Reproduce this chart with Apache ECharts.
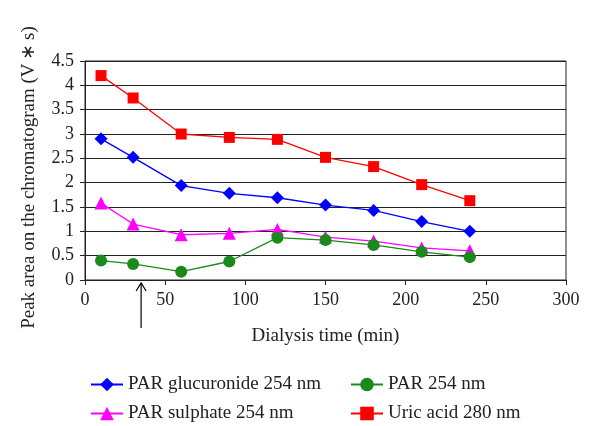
<!DOCTYPE html>
<html><head><meta charset="utf-8">
<script src="https://cdn.jsdelivr.net/npm/echarts@6/dist/echarts.min.js"></script>
<style>html,body{margin:0;padding:0;background:#fff}#c{width:600px;height:426px}</style>
</head><body><div id="c"></div>
<script>
const times = [10, 30, 60, 90, 120, 150, 180, 210, 240];
const glucuronide = [2.9, 2.52, 1.94, 1.78, 1.69, 1.54, 1.43, 1.2, 1.0];
const sulphate = [1.58, 1.15, 0.93, 0.96, 1.04, 0.88, 0.8, 0.66, 0.6];
const par = [0.4, 0.33, 0.17, 0.38, 0.87, 0.82, 0.72, 0.58, 0.47];
const uric = [4.2, 3.74, 3.0, 2.93, 2.89, 2.52, 2.33, 1.96, 1.63];
const arrowX = 35;
const names = ['PAR glucuronide 254 nm', 'PAR sulphate 254 nm', 'PAR 254 nm', 'Uric acid 280 nm'];
const font = 'Liberation Serif';
const pair = (ys) => times.map((t, i) => [t, ys[i]]);
const mk = (name, data, color, symbol, size) => ({
  name, type: 'line', data: pair(data), symbol, symbolSize: size,
  lineStyle: {color, width: 1.3}, itemStyle: {color}, color
});
const legendPos = [[85, 370], [85, 399], [345, 370], [345, 399]];
const chart = echarts.init(document.getElementById('c'));
chart.setOption({
  animation: false,
  textStyle: {fontFamily: font},
  grid: {left: 85, top: 61, width: 481, height: 219, show: true, borderColor: '#222', borderWidth: 1},
  xAxis: {
    type: 'value', min: 0, max: 300, interval: 50,
    name: 'Dialysis time (min)', nameLocation: 'middle', nameGap: 47,
    nameTextStyle: {fontFamily: font, fontSize: 19, color: '#222'},
    axisLine: {show: true, lineStyle: {color: '#222'}},
    axisTick: {show: true, length: 5, lineStyle: {color: '#222'}},
    axisLabel: {fontFamily: font, fontSize: 18, color: '#222', margin: 11},
    splitLine: {show: false}
  },
  yAxis: {
    type: 'value', min: 0, max: 4.5, interval: 0.5,
    name: 'Peak area on the chromatogram (V\u2009\u2217\u2009s)', nameLocation: 'middle', nameGap: 46,
    nameTextStyle: {fontFamily: font, fontSize: 19, color: '#222', padding: [0, 14, 0, 0]},
    axisLine: {show: true, lineStyle: {color: '#222'}},
    axisTick: {show: true, length: 5, lineStyle: {color: '#222'}},
    axisLabel: {fontFamily: font, fontSize: 18, color: '#222', margin: 11},
    splitLine: {show: true, lineStyle: {color: '#222', width: 1}}
  },
  legend: names.map((n, i) => ({
    data: [n], left: legendPos[i][0], top: legendPos[i][1], itemWidth: 32, itemHeight: 17,
    textStyle: {fontFamily: font, fontSize: 19, color: '#222'}
  })),
  series: [
    mk(names[0], glucuronide, '#0000ff', 'diamond', 13),
    mk(names[1], sulphate, '#ff00ff', 'triangle', 13),
    mk(names[2], par, '#1a8a1a', 'circle', 12),
    mk(names[3], uric, '#ff0000', 'rect', 11)
  ]
});
const ap = chart.convertToPixel({gridIndex: 0}, [arrowX, 0]);
chart.setOption({
  graphic: [
    {type: 'line', shape: {x1: ap[0], y1: ap[1] + 3, x2: ap[0], y2: ap[1] + 48}, style: {stroke: '#000', lineWidth: 1.2}},
    {type: 'polyline', shape: {points: [[ap[0] - 5, ap[1] + 11], [ap[0], ap[1] + 3], [ap[0] + 5, ap[1] + 11]]}, style: {stroke: '#000', lineWidth: 1.2, fill: null}}
  ]
});
</script></body></html>
